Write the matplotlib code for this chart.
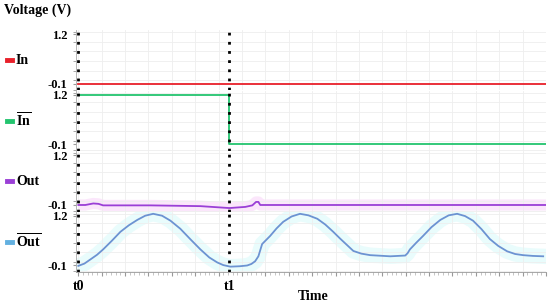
import matplotlib.pyplot as plt
from matplotlib.ticker import MultipleLocator, FixedLocator
from matplotlib.lines import Line2D

plt.rcParams['font.family'] = 'Liberation Serif'
plt.rcParams['font.weight'] = 'bold'
plt.rcParams['mathtext.fontset'] = 'custom'
plt.rcParams['mathtext.rm'] = 'Liberation Serif:bold'
plt.rcParams['mathtext.bf'] = 'Liberation Serif:bold'

# time axis (arbitrary units), t0 and t1 markers
t0 = 0.0
t1 = 32.3

# In (red)
in_t = [0, 100]
in_v = [-0.1, -0.1]

# In-bar (green)
inb_t = [0, 32.3, 32.3, 100]
inb_v = [1.2, 1.2, -0.1, -0.1]

# Out (purple)
out_t = [0, 1.5, 3.2, 4.3, 5.3, 15.4, 26.1, 32.3, 35.7, 37.2, 38.0, 38.5, 38.9, 47.4, 100]
out_v = [-0.10, -0.10, -0.06, -0.07, -0.11, -0.11, -0.13, -0.18, -0.15, -0.11, -0.02, -0.02, -0.10, -0.10, -0.10]

# Out-bar (blue)
outb_t = [0, 1.3, 2.6, 4.0, 5.3, 7.2, 9.0, 10.8, 12.6, 14.3, 16.0, 17.9, 19.7, 21.8, 24.0, 26.1,
          28.0, 29.7, 31.0, 32.5, 34.5, 36.1, 37.0, 37.8, 38.5, 39.3,
          41.0, 42.4, 43.8, 45.6, 47.4, 49.2, 51.1, 52.8, 54.5, 56.0, 58.1, 58.8, 60.5, 62.4,
          66.7, 69.9, 70.4, 70.9, 72.3, 73.7, 75.5, 77.4, 79.2,
          81.0, 82.7, 84.4, 86.2, 88.0, 89.8, 91.7, 93.4, 95.1, 97.2, 99.4]
outb_v = [-0.11, -0.05, 0.06, 0.18, 0.32, 0.55, 0.78, 0.95, 1.09, 1.20, 1.25, 1.20, 1.07, 0.86, 0.58, 0.32,
          0.11, -0.02, -0.09, -0.13, -0.12, -0.10, -0.06, 0.01, 0.14, 0.46,
          0.67, 0.87, 1.04, 1.18, 1.25, 1.21, 1.12, 0.97, 0.78, 0.60, 0.36, 0.28, 0.21, 0.17,
          0.14, 0.16, 0.22, 0.32, 0.50, 0.67, 0.90, 1.09, 1.21,
          1.25, 1.19, 1.07, 0.85, 0.59, 0.41, 0.27, 0.20, 0.17, 0.15, 0.14]

names = ['In', r'$\overline{\mathrm{In}}$', 'Out', r'$\overline{\mathrm{Out}}$']
colors = ['#e8202a', '#23c46e', '#9a3fd6', '#6c93d2']
marker_colors = ['#e8202a', '#23c46e', '#9a3fd6', '#62b0e0']
series = [(in_t, in_v), (inb_t, inb_v), (out_t, out_v), (outb_t, outb_v)]

fig = plt.figure(figsize=(5.5, 3.06), dpi=100)
left, right, top, bottom = 76 / 550, 546 / 550, 1 - 30 / 306, 1 - 272 / 306
h = (top - bottom) / 4

axes = []
for i in range(4):
    ax = fig.add_axes([left, top - (i + 1) * h, right - left, h])
    axes.append(ax)
    t, v = series[i]
    if i == 2:
        ax.plot(t, v, color='#fbe6fb', lw=8, solid_capstyle='butt', zorder=1)
    if i == 3:
        ax.plot(t, v, color='#e9fcfc', lw=11, zorder=1)
    ax.plot(t, v, color=colors[i], lw=1.3, zorder=3)
    ax.axvline(t0, color='black', ls=(0, (1, 2.3)), lw=2, zorder=4)
    ax.axvline(t1, color='black', ls=(0, (1, 2.3)), lw=2, zorder=4)
    ax.set_xlim(-0.5, 100)
    ax.set_ylim(-0.27, 1.31)
    ax.yaxis.set_major_locator(FixedLocator([-0.1, 1.2]))
    ax.set_yticklabels(['-0.1', '1.2'], fontsize=9, fontweight='bold')
    ax.yaxis.set_minor_locator(MultipleLocator(0.25))
    ax.tick_params(axis='y', which='both', length=2, color='#999999', pad=4)
    ax.xaxis.set_major_locator(MultipleLocator(5))
    ax.xaxis.set_minor_locator(MultipleLocator(1))
    ax.grid(True, which='major', axis='x', color='#eeeeee', lw=0.6, zorder=0)
    ax.grid(True, which='minor', axis='y', color='#eeeeee', lw=0.6, zorder=0)
    for s in ['top', 'right', 'bottom']:
        ax.spines[s].set_visible(False)
    ax.spines['left'].set_color('#aaaaaa')
    ax.spines['left'].set_linewidth(0.6)
    if i < 3:
        ax.tick_params(axis='x', which='both', length=0, labelbottom=False)
    else:
        ax.spines['bottom'].set_visible(True)
        ax.spines['bottom'].set_color('#999999')
        ax.spines['bottom'].set_linewidth(0.6)
        ax.tick_params(axis='x', which='major', length=3, color='#999999', labelbottom=False)
        ax.tick_params(axis='x', which='minor', length=2, color='#bbbbbb')

# legend-like labels on the left
for i in range(4):
    yc = top - (i + 0.5) * h
    fig.add_artist(Line2D([7 / 550, 12 / 550], [yc, yc], color=marker_colors[i], lw=3.5))
    fig.text(16 / 550, yc, names[i], fontsize=10, fontweight='bold', va='center', ha='left')

bax = axes[-1]
bax.text(t0, -0.14, 't0', transform=bax.get_xaxis_transform(), fontsize=10,
         fontweight='bold', ha='center', va='top')
bax.text(t1, -0.14, 't1', transform=bax.get_xaxis_transform(), fontsize=10,
         fontweight='bold', ha='center', va='top')
fig.text(313 / 550, 1 - 297 / 306, 'Time', fontsize=10, fontweight='bold', ha='center', va='center')
fig.text(4 / 550, 1 - 10 / 306, 'Voltage (V)', fontsize=10, fontweight='bold', ha='left', va='center')

fig.savefig('out.png', dpi=100)
